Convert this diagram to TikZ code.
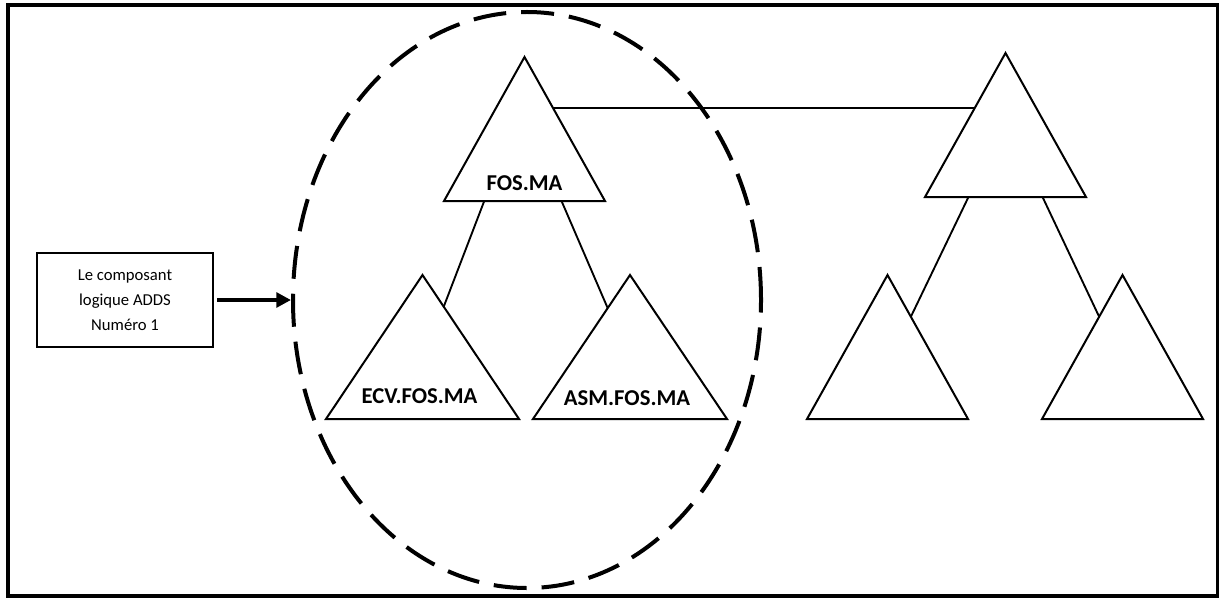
\documentclass[tikz,border=0pt]{standalone}
\usepackage{fontspec}
\setmainfont{Carlito}
\usepackage{tikz}
\usetikzlibrary{calc, arrows.meta, shapes.geometric}

\tikzset{
  tri/.style={line width=1.5pt, line join=miter},
  link/.style={line width=1.4pt},
  lbl/.style={font=\fontsize{17}{20}\selectfont\bfseries, anchor=base, inner sep=0pt},
}
\newcommand{\domtri}[5]{%
  \coordinate (#1-t) at (#2,#3);
  \coordinate (#1-l) at ($(#1-t)+(-#4,#5)$);
  \coordinate (#1-r) at ($(#1-t)+(#4,#5)$);
  \draw[tri] (#1-t) -- (#1-l) -- (#1-r) -- cycle;}

\begin{document}
\begin{tikzpicture}[x=0.75pt, y=-0.75pt]
\useasboundingbox (0,0) rectangle (1219,599);
\draw[line width=2.5pt] (8,5) rectangle (1218,596);
\node[draw, ellipse, line width=3pt, dash pattern=on 24.75pt off 11.25pt, minimum width=351pt, minimum height=432pt, inner sep=0pt] (circ) at (527,300) {};
\node[draw, line width=2pt, minimum width=132pt, minimum height=70.5pt, align=center, font=\fontsize{12.5}{18.75}\selectfont] (comp) at (125,300) {Le composant\\ logique ADDS\\ Numéro 1};
\draw[line width=2.8pt, -{Triangle[length=11pt, width=11pt]}, shorten <=2pt] (comp.east) -- (circ.west);
\domtri{fos}{524.5}{57}{80.5}{144}
\domtri{ecv}{422.5}{275}{96.5}{144}
\domtri{asm}{630}{275}{97}{144}
\domtri{rt}{1005.5}{53}{80.5}{144}
\domtri{rl}{887.5}{275}{80.5}{144}
\domtri{rr}{1122.5}{275}{80.5}{144}
\node[lbl] (fosl) at (524.5,190) {FOS.MA};
\node[lbl] (ecvl) at (419.5,403) {ECV.FOS.MA};
\node[lbl] (asml) at (627,405) {ASM.FOS.MA};
\draw[link] ($(fos-l)!0.25!(fos-r)$) -- ($(ecv-t)!0.22!(ecv-r)$);
\draw[link] ($(fos-l)!0.73!(fos-r)$) -- ($(asm-t)!0.23!(asm-l)$);
\draw[link] ($(rt-l)!0.27!(rt-r)$) -- ($(rl-t)!0.29!(rl-r)$);
\draw[link] ($(rt-l)!0.73!(rt-r)$) -- ($(rr-t)!0.29!(rr-l)$);
\coordinate (link-a) at ($(fos-t)!0.354!(fos-r)$);
\coordinate (link-b) at ($(rt-t)!0.38!(rt-l)$);
\draw[link] (link-a) -- (link-a -| link-b);
\end{tikzpicture}
\end{document}
